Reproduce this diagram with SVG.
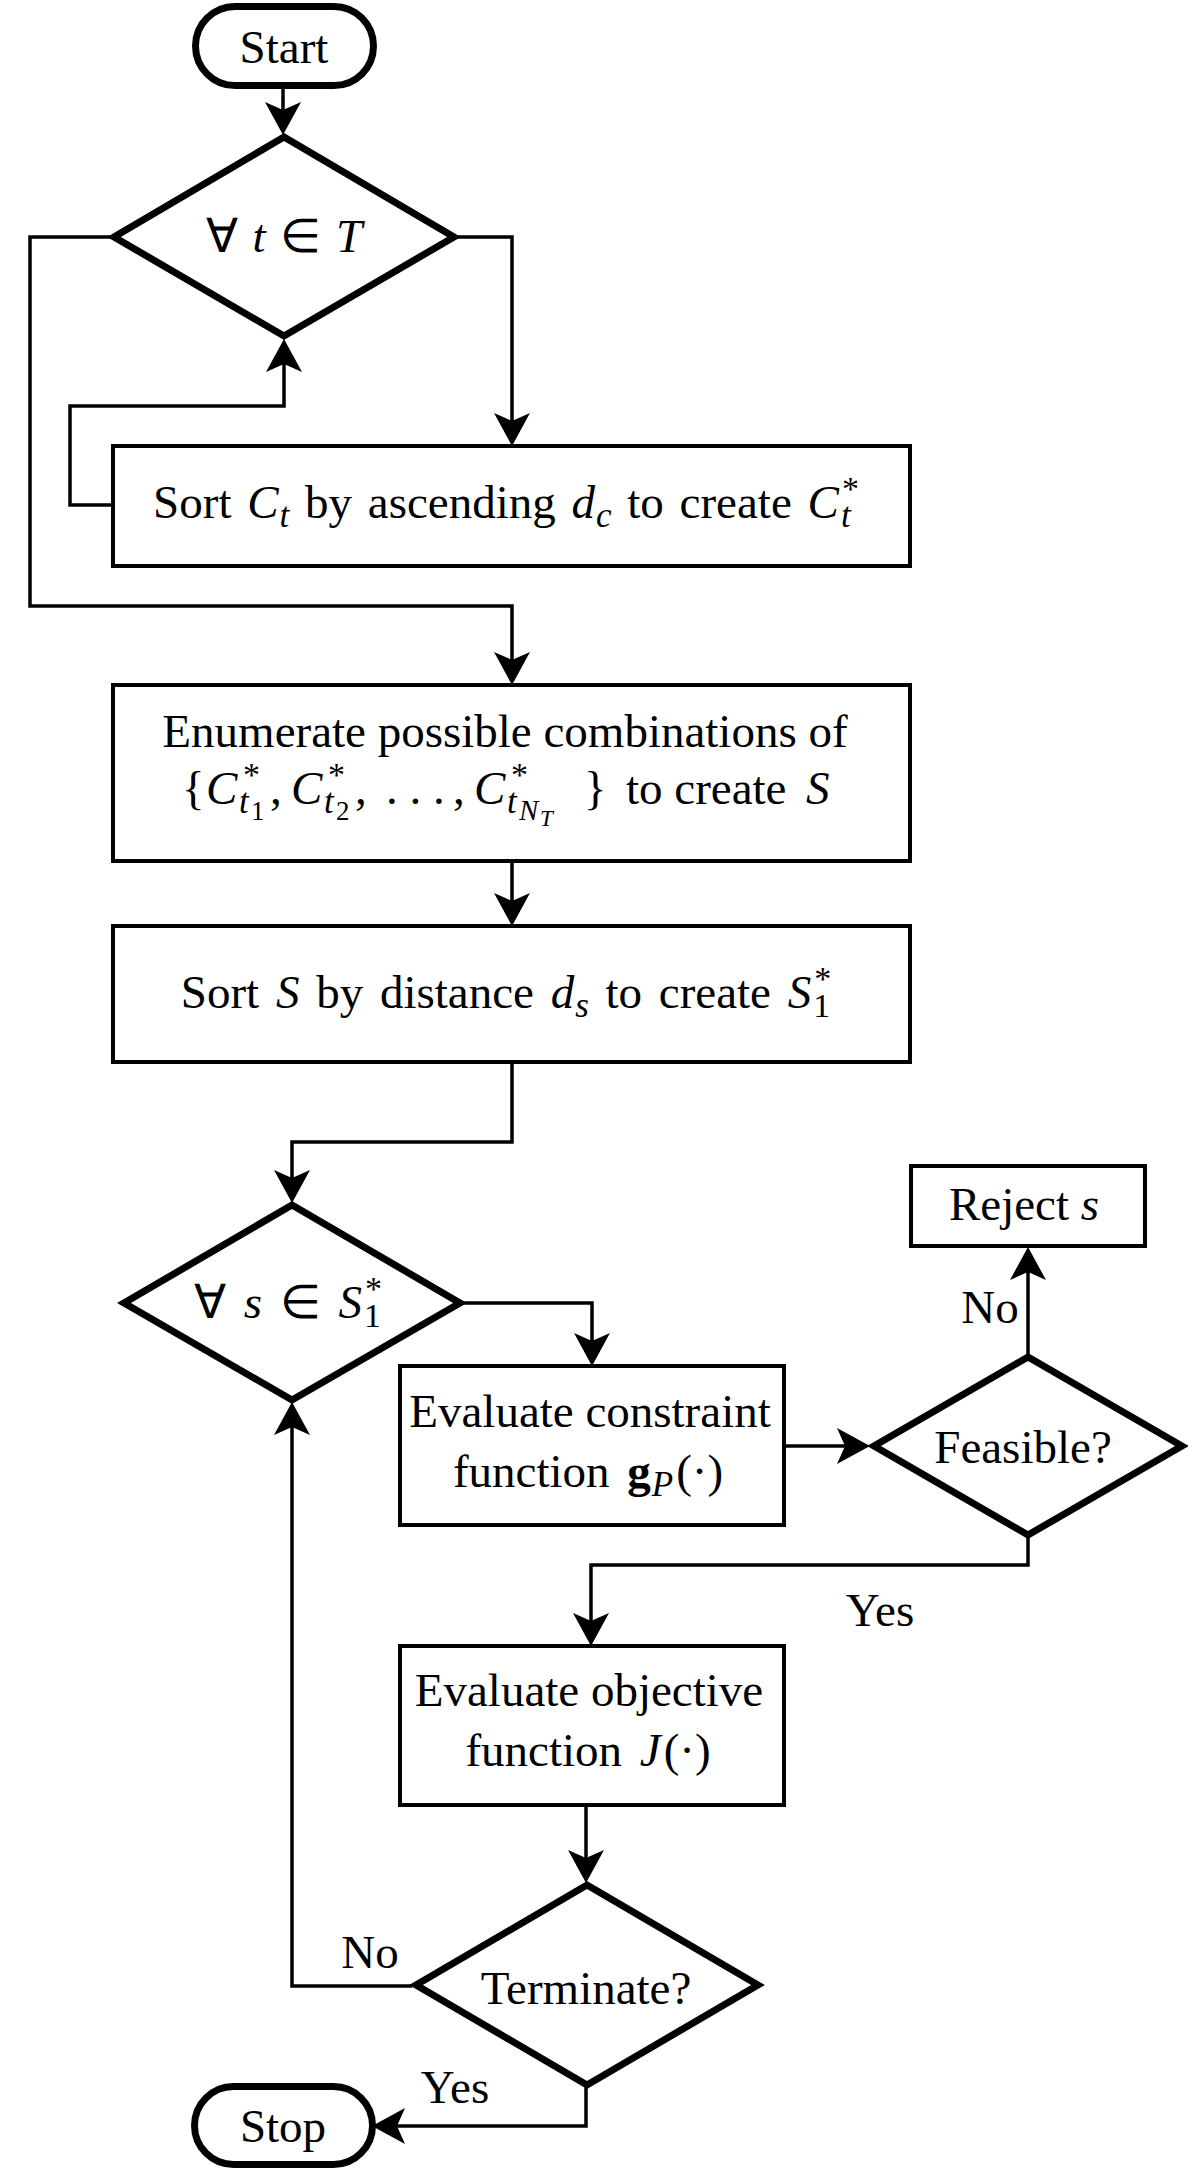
<svg xmlns="http://www.w3.org/2000/svg" width="1188" height="2168" viewBox="0 0 1188 2168">
<defs>
<style>
text{font-family:"Liberation Serif","Times New Roman",serif;font-size:47px;fill:#000;text-anchor:middle}
text.l{text-anchor:start}
.i{font-style:italic}
.s{font-style:italic;font-size:35px}
.sc{font-size:34px}
.ss{font-size:27px}
.si{font-size:29px;font-style:italic}
.sii{font-size:23px;font-style:italic}
.b{font-weight:bold}
.term{fill:#fff;stroke:#000;stroke-width:7}
.box{fill:#fff;stroke:#000;stroke-width:4}
.dia{fill:#fff;stroke:#000;stroke-width:7;stroke-linejoin:miter}
.con{fill:none;stroke:#000;stroke-width:3.5;marker-end:url(#arr)}
</style>
<marker id="arr" markerUnits="userSpaceOnUse" viewBox="-25 -20 40 40" markerWidth="40" markerHeight="40" refX="0" refY="0" orient="auto">
<path d="M10,0 L-23,-18 L-15,0 L-23,18 Z" fill="#000"/>
</marker>
</defs>
<rect width="1188" height="2168" fill="#fff"/>

<g id="connectors">
<path class="con" d="M283,89 V125"/>
<path class="con" d="M457,237 H512 V436"/>
<path class="con" d="M113,505 H70 V406 H284 V349"/>
<path class="con" d="M111,237 H30 V606 H512 V675"/>
<path class="con" d="M512,862 V916"/>
<path class="con" d="M512,1062 V1142 H292 V1193"/>
<path class="con" d="M463,1303 H592 V1356"/>
<path class="con" d="M784,1446 H860"/>
<path class="con" d="M1028,1355 V1257"/>
<path class="con" d="M1028,1537 V1565 H591 V1636"/>
<path class="con" d="M586,1805 V1873"/>
<path class="con" d="M412,1986 H292 V1412"/>
<path class="con" d="M586,2087 V2126 H382"/>
<text x="990" y="1323">No</text>
<text x="880" y="1626">Yes</text>
<text x="370" y="1968">No</text>
<text x="455" y="2103">Yes</text>
</g>

<g id="start">
<rect class="term" x="195.5" y="6.5" width="178" height="79" rx="39.5"/>
<text x="284" y="63">Start</text>
</g>

<g id="loop-t">
<path class="dia" d="M284,137 L454,237 L284,336 L114,237 Z"/>
<text x="284" y="252" style="word-spacing:3px">∀ <tspan class="i">t</tspan> ∈ <tspan class="i">T</tspan></text>
</g>

<g id="sort-ct">
<rect class="box" x="113" y="446" width="797" height="120"/>
<text x="506" y="518" style="word-spacing:4px">Sort <tspan class="i">C</tspan><tspan class="s" dx="1" dy="9">t</tspan><tspan dy="-9"> by ascending </tspan><tspan class="i">d</tspan><tspan class="s" dx="1" dy="9">c</tspan><tspan dy="-9"> to create </tspan><tspan class="i">C</tspan><tspan class="sc" dx="3" dy="-18">*</tspan><tspan class="s" dx="-18" dy="27">t</tspan></text>
</g>

<g id="enumerate">
<rect class="box" x="113" y="685" width="797" height="176"/>
<text x="505" y="747">Enumerate possible combinations of</text>
<text class="l" y="804"><tspan x="182">{</tspan><tspan class="i" x="206">C</tspan><tspan class="sc" x="243" y="786">*</tspan><tspan class="s" x="239" y="813">t</tspan><tspan class="ss" x="251" y="820">1</tspan><tspan x="270" y="804">,</tspan><tspan class="i" x="291">C</tspan><tspan class="sc" x="328" y="786">*</tspan><tspan class="s" x="324" y="813">t</tspan><tspan class="ss" x="336" y="820">2</tspan><tspan x="355" y="804">,</tspan><tspan x="386">. . .</tspan><tspan x="453">,</tspan><tspan class="i" x="474">C</tspan><tspan class="sc" x="511" y="786">*</tspan><tspan class="s" x="507" y="813">t</tspan><tspan class="si" x="519" y="820">N</tspan><tspan class="sii" x="540" y="826">T</tspan><tspan x="584" y="804">}</tspan><tspan x="626">to create</tspan><tspan class="i" x="806">S</tspan></text>
</g>

<g id="sort-s">
<rect class="box" x="113" y="926" width="797" height="136"/>
<text x="506" y="1008" style="word-spacing:5px">Sort <tspan class="i">S</tspan> by distance <tspan class="i">d</tspan><tspan class="s" dx="1" dy="9">s</tspan><tspan dy="-9"> to create </tspan><tspan class="i">S</tspan><tspan class="sc" dx="3" dy="-18">*</tspan><tspan class="sc" dx="-18" dy="27">1</tspan></text>
</g>

<g id="loop-s">
<path class="dia" d="M292,1205 L460,1303 L292,1400 L124,1303 Z"/>
<text x="288" y="1318" style="word-spacing:6px">∀ <tspan class="i">s</tspan> ∈ <tspan class="i">S</tspan><tspan class="sc" dx="3" dy="-18">*</tspan><tspan class="sc" dx="-18" dy="27">1</tspan></text>
</g>

<g id="eval-constraint">
<rect class="box" x="400" y="1366" width="384" height="159"/>
<text x="590" y="1427">Evaluate constraint</text>
<text x="588" y="1487" style="word-spacing:6px">function <tspan class="b">g</tspan><tspan class="s" dx="1" dy="9">P</tspan><tspan dx="3" dy="-9">(·)</tspan></text>
</g>

<g id="feasible">
<path class="dia" d="M1028,1357 L1182,1446 L1028,1535 L874,1446 Z"/>
<text x="1023" y="1463">Feasible?</text>
</g>

<g id="reject">
<rect class="box" x="911" y="1166" width="234" height="80"/>
<text x="1024" y="1220">Reject <tspan class="i">s</tspan></text>
</g>

<g id="eval-objective">
<rect class="box" x="400" y="1646" width="384" height="159"/>
<text x="589" y="1706">Evaluate objective</text>
<text x="588" y="1766" style="word-spacing:6px">function <tspan class="i">J</tspan><tspan dx="3">(·)</tspan></text>
</g>

<g id="terminate">
<path class="dia" d="M587,1885 L758,1985 L587,2085 L416,1985 Z"/>
<text x="586" y="2004">Terminate?</text>
</g>

<g id="stop">
<rect class="term" x="194.5" y="2086.5" width="178" height="78" rx="39"/>
<text x="283" y="2142">Stop</text>
</g>
</svg>
